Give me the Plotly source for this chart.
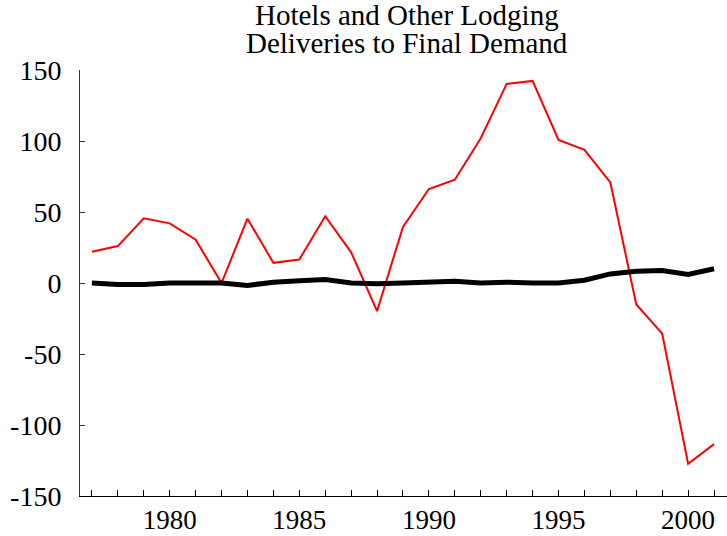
import plotly.graph_objects as go

years = list(range(1977, 2002))

# Deliveries to final demand, two series
red_series = [22, 26, 45.5, 42, 30.5, 0, 45.3, 14.2, 16.5, 47, 21.6, -19.8, 39.5,
              66.2, 72.7, 102, 140.2, 142.3, 100.8, 93.8, 70.8, -15.1, -35.7,
              -127.3, -113.5]
black_series = [0, -1, -1, 0, 0, 0, -1.7, 0.5, 1.5, 2.5, 0, -0.5, 0, 0.3, 1.3,
                0, 0.6, 0, 0, 2, 6.4, 8.3, 8.8, 6, 10]

x_tick_vals = [1980, 1985, 1990, 1995, 2000]
y_tick_vals = [-150, -100, -50, 0, 50, 100, 150]
y_tick_text = ["-150", "-100", "-50", "0", "50", "100", "150"]

title_lines = ["Hotels and Other Lodging", "Deliveries to Final Demand"]

fig = go.Figure()
fig.add_trace(go.Scatter(x=years, y=red_series, mode="lines",
                         line=dict(color="#ff0000", width=2)))
fig.add_trace(go.Scatter(x=years, y=black_series, mode="lines",
                         line=dict(color="black", width=5)))

font = "Liberation Serif, Times New Roman, serif"
fig.update_layout(
    width=727, height=536,
    margin=dict(l=80, r=0, t=70, b=40),
    paper_bgcolor="white", plot_bgcolor="white",
    showlegend=False,
    font=dict(family=font, size=28, color="black"),
)

# two title lines, set tightly one above the other
for text, ypos in zip(title_lines, [1.130, 1.063]):
    fig.add_annotation(text=text, xref="paper", yref="paper", x=0.505, y=ypos,
                       xanchor="center", yanchor="middle", showarrow=False,
                       font=dict(family=font, size=29, color="black"))

fig.update_xaxes(
    range=[1976.54, 2001.5], showgrid=False, zeroline=False, automargin=False,
    showline=True, linecolor="black", linewidth=1,
    tickvals=x_tick_vals, ticks="inside", ticklen=6, tickcolor="black",
    ticklabelstandoff=0, tickfont=dict(size=27),
    minor=dict(dtick=1, tick0=1977, ticks="inside", ticklen=6, tickcolor="black"),
)
fig.update_yaxes(
    range=[-150, 150], showgrid=False, zeroline=False, automargin=False,
    showline=True, linecolor="#333333", linewidth=1,
    tickvals=y_tick_vals, ticktext=y_tick_text,
    ticks="inside", ticklen=5, tickcolor="#333333",
    ticklabelstandoff=12,
)

fig.write_html("out.html")
